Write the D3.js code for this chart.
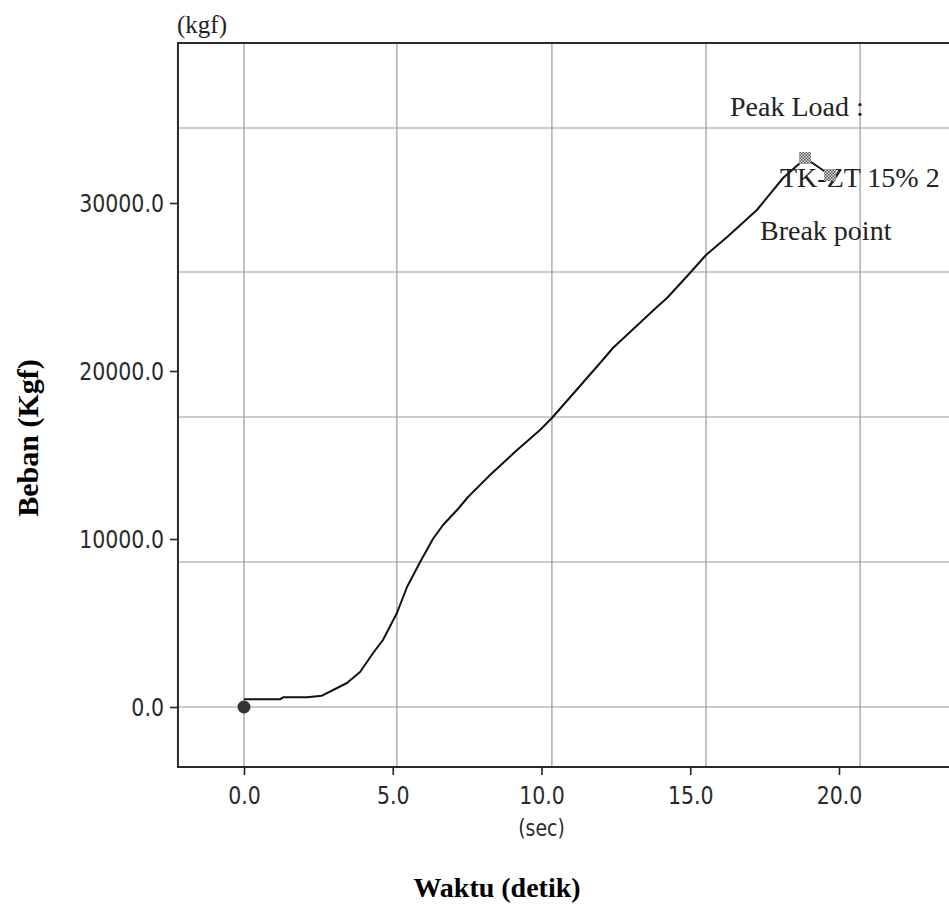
<!DOCTYPE html>
<html>
<head>
<meta charset="utf-8">
<script src="https://cdn.jsdelivr.net/npm/d3@7/dist/d3.min.js"></script>
<style>
  html, body { margin: 0; padding: 0; background: #fff; overflow: hidden; }
  svg { display: block; }
</style>
</head>
<body>
<svg id="chart" width="949" height="912"></svg>
<script>
// ---- data ----
const timeSec = [0, 1.21, 1.31, 2.12, 2.62, 3.13, 3.46, 3.90, 4.34, 4.67, 5.14, 5.48, 5.92, 6.35, 6.69, 7.20, 7.53, 8.27, 9.18, 9.95, 10.35, 11.97, 12.40, 13.88, 14.22, 14.99, 15.53, 16.24, 17.24, 18.12, 18.69, 18.86, 19.70];
const loadKgf = [458, 458, 577, 577, 673, 1131, 1429, 2083, 3214, 3988, 5595, 7143, 8631, 10000, 10833, 11800, 12500, 13810, 15298, 16488, 17202, 20476, 21369, 23810, 24345, 25833, 26905, 27976, 29583, 31488, 32381, 32679, 31667];
const xTicks = [0, 5, 10, 15, 20];
const yTicks = [0, 10000, 20000, 30000];
const xGrid = [0, 5.14, 10.35, 15.53, 20.71];
const yGrid = [0, 8631, 17262, 25893, 34464];
const startPoint = [0, 0];
const peakPoint = [18.86, 32679];
const breakPoint = [19.70, 31667];
const xDomain = [-2.22, 23.9];
const yDomain = [-3570, 39520];

(function () {
const svg = d3.select("#chart");

const x = d3.scaleLinear().domain([0, 20]).range([244, 839]);
const y = d3.scaleLinear().domain([0, 30000]).range([707, 203]);

const pLeft = x(xDomain[0]), pRight = x(xDomain[1]);
const pTop = y(yDomain[1]), pBottom = y(yDomain[0]);

// pattern for hatched markers
const defs = svg.append("defs");
const pat = defs.append("pattern").attr("id", "hatch")
  .attr("width", 3).attr("height", 3).attr("patternUnits", "userSpaceOnUse");
pat.append("rect").attr("width", 3).attr("height", 3).attr("fill", "#ddd");
pat.append("rect").attr("width", 1.5).attr("height", 1.5).attr("fill", "#555");
pat.append("rect").attr("x", 1.5).attr("y", 1.5).attr("width", 1.5).attr("height", 1.5).attr("fill", "#555");

// grid lines
svg.append("g").selectAll("line").data(xGrid).join("line")
  .attr("x1", d => x(d)).attr("x2", d => x(d))
  .attr("y1", pTop).attr("y2", pBottom)
  .attr("stroke", "#9a9a9a").attr("stroke-width", 1.2);
svg.append("g").selectAll("line").data(yGrid).join("line")
  .attr("x1", pLeft).attr("x2", pRight)
  .attr("y1", d => y(d)).attr("y2", d => y(d))
  .attr("stroke", "#9a9a9a").attr("stroke-width", 1.2);

// frame
svg.append("path")
  .attr("d", `M${pRight},${pTop}H${pLeft}V${pBottom}H${pRight}`)
  .attr("fill", "none").attr("stroke", "#2a2a2a").attr("stroke-width", 2);

// axes
const fmt = d => d.toFixed(1);
const condense = function () {
  const w = this.getComputedTextLength();
  d3.select(this).attr("textLength", w * 0.82).attr("lengthAdjust", "spacingAndGlyphs");
};
const yAxis = svg.append("g").attr("transform", `translate(${pLeft},0)`)
  .call(d3.axisLeft(y).tickValues(yTicks).tickFormat(fmt).tickSize(8).tickPadding(6));
const xAxis = svg.append("g").attr("transform", `translate(0,${pBottom})`)
  .call(d3.axisBottom(x).tickValues(xTicks).tickFormat(fmt).tickSize(8).tickPadding(11));
[yAxis, xAxis].forEach(g => {
  g.select(".domain").remove();
  g.selectAll(".tick line").attr("stroke", "#222").attr("stroke-width", 1.6);
  g.selectAll(".tick text")
    .attr("fill", "#2a2a2a")
    .style("font-family", "'DejaVu Sans', sans-serif")
    .style("font-size", "25px")
    .each(condense);
});

// (sec) unit
svg.append("text").attr("x", x(10)).attr("y", 836).attr("text-anchor", "middle")
  .attr("fill", "#2a2a2a").style("font-family", "'DejaVu Sans', sans-serif").style("font-size", "23px")
  .text("(sec)").each(condense);

// (kgf) unit
svg.append("text").attr("x", 177).attr("y", 33)
  .attr("fill", "#222").style("font-family", "'Liberation Serif', serif").style("font-size", "25px")
  .text("(kgf)");

// curve
const pts = timeSec.map((t, i) => [t, loadKgf[i]]);
svg.append("path").datum(pts)
  .attr("d", d3.line().x(d => x(d[0])).y(d => y(d[1])))
  .attr("fill", "none").attr("stroke", "#111").attr("stroke-width", 2)
  .attr("stroke-linejoin", "round");

// start marker
svg.append("circle").attr("cx", x(startPoint[0])).attr("cy", y(startPoint[1])).attr("r", 6.5)
  .attr("fill", "#333");

// annotation texts
const serif = "'Liberation Serif', 'Times New Roman', serif";
svg.append("text").attr("x", 730).attr("y", 116).attr("fill", "#222")
  .style("font-family", serif).style("font-size", "28px").text("Peak Load :");
svg.append("text").attr("x", 780).attr("y", 187).attr("fill", "#222")
  .style("font-family", serif).style("font-size", "28px").text("TK-ZT 15% 2");
svg.append("text").attr("x", 760).attr("y", 240).attr("fill", "#222")
  .style("font-family", serif).style("font-size", "28px").text("Break point");

// peak & break markers
[peakPoint, breakPoint].forEach(p => {
  svg.append("rect").attr("x", x(p[0]) - 6).attr("y", y(p[1]) - 6)
    .attr("width", 12).attr("height", 12).attr("fill", "url(#hatch)");
});

// axis titles
svg.append("text").attr("x", 497).attr("y", 897).attr("text-anchor", "middle")
  .attr("fill", "#000").style("font-family", serif).style("font-weight", "bold").style("font-size", "28px")
  .text("Waktu (detik)");
svg.append("text").attr("transform", "translate(38,438) rotate(-90)").attr("text-anchor", "middle")
  .attr("fill", "#000").style("font-family", serif).style("font-weight", "bold").style("font-size", "30px")
  .text("Beban (Kgf)");
})();
</script>
</body>
</html>
